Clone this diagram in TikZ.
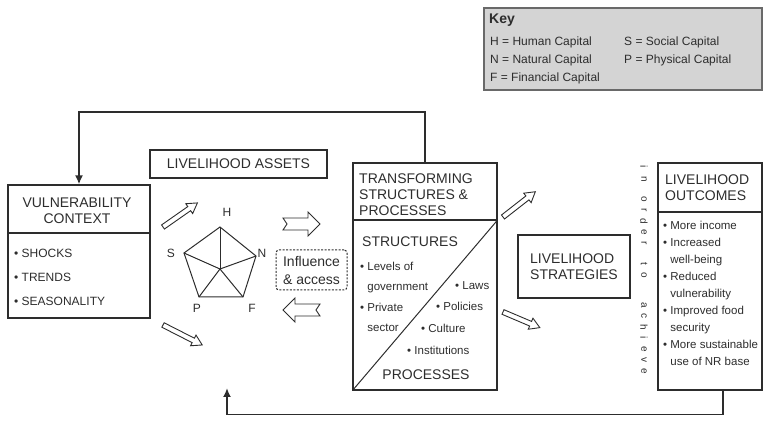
\documentclass[tikz,border=0pt]{standalone}
\usepackage{fontspec}
\setmainfont{Liberation Sans}
\usetikzlibrary{arrows.meta}
\definecolor{keygray}{RGB}{212,212,212}
\definecolor{keyedge}{RGB}{105,105,105}
\definecolor{ink}{RGB}{45,45,45}
\newcommand{\bul}{\textbullet\ }
\newcommand{\gap}{\phantom{\textbullet\ }}
\tikzset{
  box/.style={draw=ink, line width=1.2pt, rectangle, inner sep=0pt},
  ttl/.style={font=\fontsize{14}{16}\selectfont, align=left, inner sep=0pt, text=ink},
  txt/.style={font=\fontsize{12}{17}\selectfont, align=left, inner sep=0pt, anchor=west, text=ink},
  lbl/.style={font=\fontsize{12}{12}\selectfont, inner sep=0pt, text=ink},
  fb/.style={draw=ink, line width=1.8pt, -{Latex[length=9pt,width=8pt]}},
  hollow/.style={draw=ink, line width=0.9pt, fill=white, line join=miter},
  pics/fatarrow/.style={code={
    \draw[hollow] (0,-6) -- (25,-6) -- (25,-12) -- (37,0) -- (25,12) -- (25,6) -- (0,6) -- (4,0) -- cycle;}},
  pics/slimarrow/.style={code={
    \draw[hollow] (0,-2.5) -- (#1-10,-2.5) -- (#1-10,-6) -- (#1,0) -- (#1-10,6) -- (#1-10,2.5) -- (0,2.5) -- cycle;}},
}

\begin{document}
\begin{tikzpicture}[x=1pt, y=-1pt]
\useasboundingbox (0,0) rectangle (764,443);

% key
\node[box, draw=keyedge, line width=2.5pt, fill=keygray, minimum width=278pt, minimum height=82pt] (keybox) at (623,49) {};
\node[lbl, anchor=west, font=\fontsize{14}{14}\selectfont\bfseries] at (489,20) {Key};
\node[lbl, anchor=west] at (490,42) {H = Human Capital};
\node[lbl, anchor=west] at (490,60) {N = Natural Capital};
\node[lbl, anchor=west] at (490,78) {F = Financial Capital};
\node[lbl, anchor=west] at (624,42) {S = Social Capital};
\node[lbl, anchor=west] at (624,60) {P = Physical Capital};

% vulnerability context
\node[box, minimum width=142pt, minimum height=133pt] (vuln) at (79,251.5) {};
\draw[ink, line width=1.2pt] (vuln.west |- 0,233) -- (vuln.east |- 0,233);
\node[ttl, align=center] at (77,211) {VULNERABILITY\\CONTEXT};
\node[txt, font=\fontsize{12}{24}\selectfont] at (14,277) {\bul SHOCKS\\\bul TRENDS\\\bul SEASONALITY};

% livelihood assets
\node[box, ttl, minimum width=177pt, minimum height=28pt] (assets) at (238.5,164) {LIVELIHOOD ASSETS};
\coordinate (pc) at (220,269);
\coordinate (pH) at (220,227);
\coordinate (pN) at (256,256);
\coordinate (pF) at (243,297);
\coordinate (pP) at (199,297);
\coordinate (pS) at (184,253);
\draw[ink, line width=1pt, line join=miter] (pH) -- (pN) -- (pF) -- (pP) -- (pS) -- cycle;
\foreach \v in {pH,pN,pF,pP,pS}
  \draw[ink, line width=1pt] (pc) -- (\v);
\node[lbl] at (227,212) {H};
\node[lbl] at (262,253) {N};
\node[lbl] at (252,308) {F};
\node[lbl] at (197,308) {P};
\node[lbl] at (171,253) {S};

\pic[rotate=35] at (163,227) {slimarrow=42};
\pic[rotate=-27] at (163,325) {slimarrow=44};
\pic at (283,224) {fatarrow};
\pic[rotate=180] at (320,310) {fatarrow};

\node[draw=ink, line width=1pt, dash pattern=on 2pt off 1.5pt, rounded corners=3pt, minimum width=71pt, minimum height=40pt,
  align=left, inner sep=0pt, text=ink, font=\fontsize{14}{18}\selectfont] (infl) at (311.5,270) {Influence\\\& access};

% transforming structures and processes
\node[box, minimum width=144pt, minimum height=227pt] (trans) at (425,276.5) {};
\draw[ink, line width=1.2pt] (trans.west |- 0,220) -- (trans.east |- 0,220) coordinate (tdiv);
\draw[ink, line width=1pt] (trans.south west) -- (tdiv);
\node[ttl, anchor=west] at (359,195) {TRANSFORMING\\STRUCTURES \&\\PROCESSES};
\node[ttl, anchor=west] at (362,242) {STRUCTURES};
\node[txt, font=\fontsize{11.5}{20.5}\selectfont] at (360,297) {\bul Levels of\\\gap government\\\bul Private\\\gap sector};
\node[txt, font=\fontsize{11.5}{14}\selectfont] at (455,286) {\bul Laws};
\node[txt, font=\fontsize{11.5}{14}\selectfont] at (436,306) {\bul Policies};
\node[txt, font=\fontsize{11.5}{14}\selectfont] at (421,328) {\bul Culture};
\node[txt, font=\fontsize{11.5}{14}\selectfont] at (407,350) {\bul Institutions};
\node[ttl] at (426,375) {PROCESSES};

\pic[rotate=38] at (503,217) {slimarrow=41};
\pic[rotate=-23] at (503,312) {slimarrow=40};

% strategies and outcomes
\node[box, ttl, minimum width=112pt, minimum height=63pt] (strat) at (574,266.5) {LIVELIHOOD\\STRATEGIES};

\foreach \ch/\yy in {i/167,n/179,o/199,r/210,d/221,e/232,r/243,t/264,o/275,a/305,c/316,h/327,i/338,e/349,v/360,e/371}
  \node[rotate=-90, inner sep=0pt, text=ink, font=\fontsize{10}{10}\selectfont] at (644,\yy) {\ch};

\node[box, minimum width=104pt, minimum height=227pt] (outc) at (710,276.5) {};
\draw[ink, line width=1.2pt] (outc.west |- 0,212) -- (outc.east |- 0,212);
\node[ttl, anchor=west] at (665,188) {LIVELIHOOD\\OUTCOMES};
\node[txt, font=\fontsize{11.5}{17}\selectfont] at (663,293) {\bul More income\\\bul Increased\\\gap well-being\\\bul Reduced\\\gap vulnerability\\\bul Improved food\\\gap security\\\bul More sustainable\\\gap use of NR base};

% feedback loops
\coordinate (ret) at (227,388);
\draw[fb] (trans.north) -- ++(0,-50) -| (vuln.north);
\draw[fb] ([xshift=13pt]outc.south) -- ++(0,24) -| (ret);
\end{tikzpicture}
\end{document}
